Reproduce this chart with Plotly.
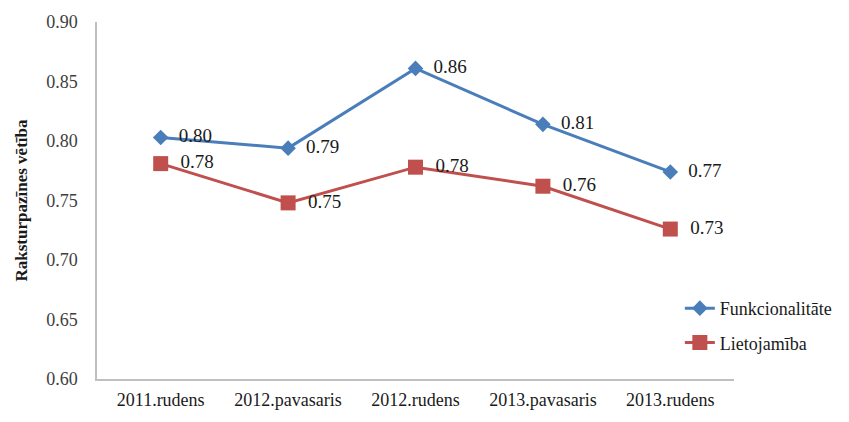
import plotly.graph_objects as go

categories = ["2011.rudens", "2012.pavasaris", "2012.rudens", "2013.pavasaris", "2013.rudens"]
funkcionalitate = [0.803, 0.794, 0.861, 0.814, 0.774]
lietojamiba = [0.781, 0.748, 0.778, 0.762, 0.726]
y_ticks = [0.60, 0.65, 0.70, 0.75, 0.80, 0.85, 0.90]

FONT = "'Liberation Serif', 'Times New Roman', serif"
BLUE = "#4A7EBB"
RED = "#C0504D"

fig = go.Figure()
fig.add_trace(go.Scatter(
    x=categories, y=funkcionalitate, name="Funkcionalitāte",
    mode="lines+markers+text", legendgroup="a",
    line=dict(color=BLUE, width=3),
    marker=dict(symbol="diamond", size=12, color=BLUE),
    texttemplate="  %{y:.2f}", textposition="middle right",
    textfont=dict(family=FONT, size=19, color="#1a1a1a"),
))
fig.add_trace(go.Scatter(
    x=categories, y=lietojamiba, name="Lietojamība",
    mode="lines+markers+text", legendgroup="b",
    line=dict(color=RED, width=3),
    marker=dict(symbol="square", size=15, color=RED),
    texttemplate="  %{y:.2f}", textposition="middle right",
    textfont=dict(family=FONT, size=19, color="#1a1a1a"),
))

fig.update_layout(
    width=849, height=422,
    margin=dict(l=97, r=115, t=19, b=34),
    plot_bgcolor="white", paper_bgcolor="white",
    font=dict(family=FONT, size=18, color="#262626"),
    legend=dict(
        x=0.915, y=0.15, xanchor="left", yanchor="middle",
        bgcolor="rgba(0,0,0,0)", tracegroupgap=8,
        font=dict(family=FONT, size=18, color="#1a1a1a"),
        itemwidth=30,
    ),
    xaxis=dict(
        showline=True, linecolor="#BFBFBF", linewidth=1.5,
        showgrid=False, ticks="outside", ticklen=4, tickcolor="rgba(0,0,0,0)",
        tickfont=dict(family=FONT, size=18, color="#1a1a1a"),
        range=[-0.5, 4.5],
    ),
    yaxis=dict(
        range=[0.60, 0.90], tickvals=y_ticks, tickformat=".2f",
        showline=True, linecolor="#BFBFBF", linewidth=1.5,
        showgrid=False, zeroline=False,
        ticks="outside", ticklen=14, tickcolor="rgba(0,0,0,0)",
        tickfont=dict(family=FONT, size=18, color="#404040"),
        title=dict(text="<b>Raksturpazīnes vētība</b>", standoff=14,
                   font=dict(family=FONT, size=17, color="#1a1a1a")),
    ),
)

fig.write_html("out.html")
